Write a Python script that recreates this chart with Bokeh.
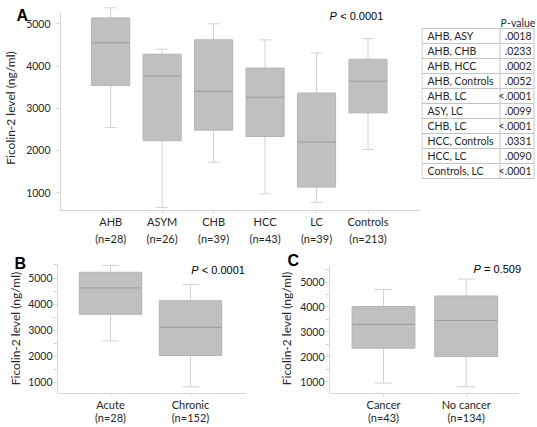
import math
from bokeh.plotting import figure
from bokeh.models import Range1d, FixedTicker, ColumnDataSource, Title
from bokeh.layouts import row, column
from bokeh.embed import file_html
from bokeh.resources import INLINE
from bokeh.core.properties import value

# ---------------- data ----------------
a_groups = ["AHB", "ASYM", "CHB", "HCC", "LC", "Controls"]
a_n = [28, 26, 39, 43, 39, 213]
a_upper = [5380, 4400, 5000, 4620, 4310, 4650]
a_q3 = [5140, 4280, 4620, 3950, 3360, 4160]
a_median = [4550, 3760, 3400, 3260, 2200, 3640]
a_q1 = [3540, 2230, 2480, 2330, 1130, 2890]
a_lower = [2540, 650, 1720, 970, 770, 2020]
a_p = "< 0.0001"

b_groups = ["Acute", "Chronic"]
b_n = [28, 152]
b_upper = [5480, 4750]
b_q3 = [5220, 4130]
b_median = [4620, 3110]
b_q1 = [3610, 2030]
b_lower = [2590, 830]
b_p = "< 0.0001"

c_groups = ["Cancer", "No cancer"]
c_n = [43, 134]
c_upper = [4700, 5120]
c_q3 = [4020, 4440]
c_median = [3300, 3460]
c_q1 = [2345, 2010]
c_lower = [950, 800]
c_p = "= 0.509"

table_pairs = ["AHB, ASY", "AHB, CHB", "AHB, HCC", "AHB, Controls", "AHB, LC",
               "ASY, LC", "CHB, LC", "HCC, Controls", "HCC, LC", "Controls, LC"]
table_pvals = [".0018", ".0233", ".0002", ".0052", "<.0001",
               ".0099", "<.0001", ".0331", ".0090", "<.0001"]

y_title = "Ficolin-2 level (ng/ml)"
major_ticks = [1000, 2000, 3000, 4000, 5000]
minor_ticks = [500, 1500, 2500, 3500, 4500, 5500]

# ---------------- style ----------------
BOX = "#c0c0c0"
BOXLINE = "#b4b4b4"
MED = "#9c9c9c"
WHISK = "#d2d2d2"
AXIS = "#d6d6d6"
TXT = "#262626"
CAL = "Lato"
ARIAL = "Liberation Sans"


def make_panel(groups, n, upper, q3, med, q1, lower, xr, yr, w, h,
               borders, box_w, cap_w, minor, label_lh, ystandoff, title_standoff,
               ybounds=None, xbounds=None):
    l, r, t, b = borders
    p = figure(width=w, height=h, x_range=Range1d(*xr), y_range=Range1d(*yr),
               output_backend="svg", toolbar_location=None,
               min_border_left=l, min_border_right=r, min_border_top=t,
               min_border_bottom=b)
    p.outline_line_color = None
    p.xgrid.visible = False
    p.ygrid.visible = False
    xs = list(range(len(groups)))
    src = ColumnDataSource(dict(
        x=xs, upper=upper, q3=q3, med=med, q1=q1, lower=lower,
        xl=[x - box_w / 2 for x in xs], xr=[x + box_w / 2 for x in xs],
        cl=[x - cap_w / 2 for x in xs], cr=[x + cap_w / 2 for x in xs]))
    p.segment(x0="x", y0="q3", x1="x", y1="upper", source=src, line_color=WHISK, line_width=1)
    p.segment(x0="x", y0="lower", x1="x", y1="q1", source=src, line_color=WHISK, line_width=1)
    p.segment(x0="cl", y0="upper", x1="cr", y1="upper", source=src, line_color=WHISK, line_width=1)
    p.segment(x0="cl", y0="lower", x1="cr", y1="lower", source=src, line_color=WHISK, line_width=1)
    p.vbar(x="x", width=box_w, top="q3", bottom="q1", source=src,
           fill_color=BOX, line_color=BOXLINE, line_width=1)
    p.segment(x0="xl", y0="med", x1="xr", y1="med", source=src, line_color=MED, line_width=1)

    xa = p.xaxis[0]
    xa.ticker = FixedTicker(ticks=xs)
    xa.major_label_overrides = {i: f"{g}\n(n={k})" for i, (g, k) in enumerate(zip(groups, n))}
    xa.axis_line_color = AXIS
    xa.major_tick_line_color = AXIS
    xa.major_tick_out = 3
    xa.major_tick_in = 0
    xa.minor_tick_line_color = None
    xa.major_label_text_font = CAL
    xa.major_label_text_font_size = "11px"
    xa.major_label_text_color = TXT
    xa.major_label_text_line_height = label_lh
    xa.major_label_standoff = 1
    if xbounds is not None:
        xa.bounds = xbounds

    ya = p.yaxis[0]
    ya.ticker = FixedTicker(ticks=major_ticks, minor_ticks=minor_ticks if minor else [])
    ya.axis_line_color = AXIS
    ya.major_tick_line_color = AXIS
    ya.minor_tick_line_color = AXIS if minor else None
    ya.major_tick_out = 4
    ya.major_tick_in = 0
    ya.minor_tick_out = 4
    ya.minor_tick_in = 0
    ya.major_label_text_font = CAL
    ya.major_label_text_font_size = "10.5px"
    ya.major_label_text_color = TXT
    ya.major_label_standoff = ystandoff
    ya.axis_label = y_title
    ya.axis_label_text_font = CAL
    ya.axis_label_text_font_size = "12px"
    ya.axis_label_text_font_style = "normal"
    ya.axis_label_text_color = TXT
    ya.axis_label_standoff = title_standoff
    if ybounds is not None:
        ya.bounds = ybounds
    return p


def add_letter(p, letter, offset, standoff):
    p.add_layout(Title(text=letter, align="left", vertical_align="bottom",
                       offset=offset, standoff=standoff,
                       text_font=ARIAL, text_font_style="bold",
                       text_font_size="16px", text_color="black"), "above")


def add_p(p, x, y, rest):
    p.text(x=[x], y=[y], text=["P"], text_font=value(ARIAL), text_font_style="italic",
           text_font_size="11px", text_color="black", text_align="left",
           text_baseline="middle")
    p.text(x=[x], y=[y], x_offset=10.6, text=[rest], text_font=value(ARIAL),
           text_font_size="11px", text_color="black", text_align="left",
           text_baseline="middle")


# ---------------- panel A ----------------
a_xr = (-0.975, 6.02)
a_yr = (576, 5434)
pA = make_panel(a_groups, a_n, a_upper, a_q3, a_median, a_q1, a_lower, a_xr, a_yr,
                421, 250, (52, 1, 5, 40), 0.74, 0.23, False, 1.36, 6, 5,
                ybounds=(576, 5260))
add_letter(pA, "A", -44, -36)
add_p(pA, 4.253, 5180, a_p)

# ---------------- table ----------------
tw, th = 116, 250
pT = figure(width=tw, height=th, x_range=Range1d(0, tw), y_range=Range1d(th, 0),
            output_backend="svg", toolbar_location=None,
            min_border_left=0, min_border_right=0, min_border_top=0, min_border_bottom=0)
pT.axis.visible = False
pT.xgrid.visible = False
pT.ygrid.visible = False
pT.outline_line_color = None
top, rh = 28.0, 18.3
nrows = len(table_pairs)
hy = [top + i * rh for i in range(nrows + 1)]
pT.segment(x0=[0.5] * len(hy), x1=[112.5] * len(hy), y0=hy, y1=hy, line_color="#c4c4c4", line_width=1)
vx = [0.5, 78.5, 112.5]
pT.segment(x0=vx, x1=vx, y0=[hy[0]] * 3, y1=[hy[-1]] * 3, line_color="#c4c4c4", line_width=1)
cy = [top + (i + 0.5) * rh for i in range(nrows)]
pT.text(x=[6] * nrows, y=cy, text=table_pairs, text_font=value(CAL), text_font_size="10.5px",
        text_color=TXT, text_align="left", text_baseline="middle")
pT.text(x=[110] * nrows, y=cy, text=table_pvals, text_font=value(CAL), text_font_size="10.5px",
        text_color=TXT, text_align="right", text_baseline="middle")
pT.text(x=[79], y=[21], text=["P"], text_font=value(CAL), text_font_style="italic",
        text_font_size="10.5px", text_color=TXT, text_align="left", text_baseline="middle")
pT.text(x=[85.5], y=[21], text=["-value"], text_font=value(CAL),
        text_font_size="10.5px", text_color=TXT, text_align="left", text_baseline="middle")

# ---------------- panel B ----------------
b_xr = (-0.6625, 1.6875)
b_yr = (575, 5556)
pB = make_panel(b_groups, b_n, b_upper, b_q3, b_median, b_q1, b_lower, b_xr, b_yr,
                270, 177, (57, 25, 13, 34), 0.78, 0.21, True, 1.04, 1, 2)
add_letter(pB, "B", -43, -17)
add_p(pB, 1.009, 5326, b_p)

# ---------------- panel C ----------------
c_xr = (-0.653, 1.8017)
c_yr = (529, 5745)
pC = make_panel(c_groups, c_n, c_upper, c_q3, c_median, c_q1, c_lower, c_xr, c_yr,
                267, 177, (59, 5, 10, 34), 0.76, 0.22, True, 1.04, 1, 3,
                ybounds=(529, 5627), xbounds=(-0.653, 1.632))
add_letter(pC, "C", -42, -11)
add_p(pC, 1.088, 5510, c_p)

layout = column(row(pA, pT, spacing=0), row(pB, pC, spacing=0), spacing=0)

with open("out.html", "w") as f:
    f.write(file_html(layout, INLINE))
